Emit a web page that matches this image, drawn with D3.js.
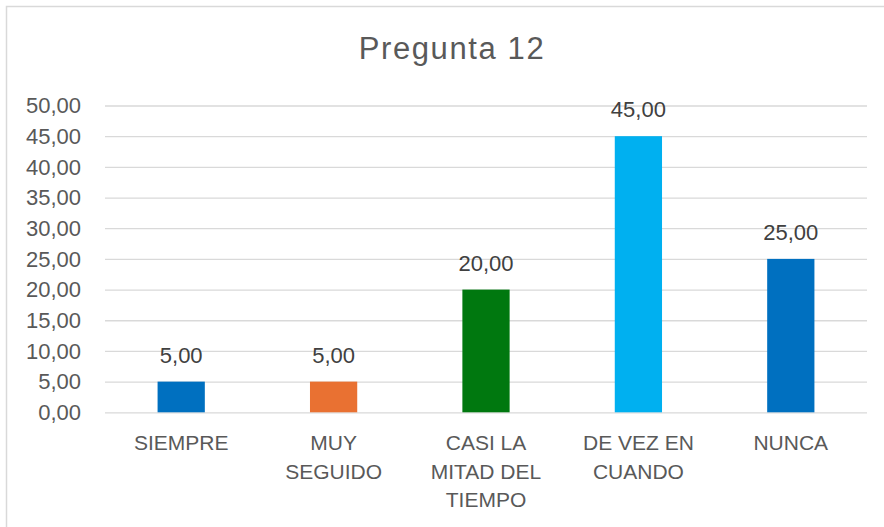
<!DOCTYPE html>
<html>
<head>
<meta charset="utf-8">
<script src="https://cdn.jsdelivr.net/npm/d3@7"></script>
<style>
  html, body { margin: 0; padding: 0; background: #fff; }
  svg { display: block; font-family: "Liberation Sans", Arial, sans-serif; }
</style>
</head>
<body>
<svg id="chart" width="884" height="527"></svg>
<script>
const title = "Pregunta 12";
const categories = ["SIEMPRE", "MUY SEGUIDO", "CASI LA MITAD DEL TIEMPO", "DE VEZ EN CUANDO", "NUNCA"];
const categoryLines = [["SIEMPRE"], ["MUY", "SEGUIDO"], ["CASI LA", "MITAD DEL", "TIEMPO"], ["DE VEZ EN", "CUANDO"], ["NUNCA"]];
const values = [5, 5, 20, 45, 25];
const colors = ["#0070C0", "#E97132", "#00780F", "#00B0F0", "#0070C0"];
const yTicks = [0, 5, 10, 15, 20, 25, 30, 35, 40, 45, 50];

const fmt = v => d3.format(".2f")(v).replace(".", ",");

const svg = d3.select("#chart");

// chart frame
svg.append("rect")
  .attr("x", 6.5).attr("y", 6.5)
  .attr("width", 891).attr("height", 540)
  .attr("fill", "#fff").attr("stroke", "#d9d9d9").attr("stroke-width", 1.5);

const plot = { left: 105, right: 867, top: 105.5, bottom: 412.3 };

const x = d3.scaleBand().domain(categories).range([plot.left, plot.right]).padding(0);
const y = d3.scaleLinear().domain([0, 50]).range([plot.bottom, plot.top]);

// title
svg.append("text")
  .attr("x", 452).attr("y", 59)
  .attr("text-anchor", "middle")
  .attr("font-size", 31)
  .attr("letter-spacing", 1.6)
  .attr("fill", "#595959")
  .text(title);

// gridlines + y tick labels
const yAxis = d3.axisLeft(y).tickValues(yTicks)
  .tickSize(-(plot.right - plot.left))
  .tickFormat(fmt)
  .tickPadding(24);
const gy = svg.append("g").attr("transform", `translate(${plot.left},0)`).call(yAxis);
gy.select(".domain").remove();
gy.selectAll(".tick line").attr("stroke", "#d9d9d9").attr("stroke-width", 1.3);
gy.selectAll(".tick text")
  .attr("font-size", 22)
  .attr("fill", "#595959")
  .attr("font-family", "'Liberation Sans', Arial, sans-serif")
  .attr("dy", "0.33em");

// bars
const barW = x.bandwidth() * 0.31;
svg.append("g").selectAll("rect")
  .data(values)
  .join("rect")
  .attr("x", (d, i) => x(categories[i]) + x.bandwidth() / 2 - barW / 2)
  .attr("y", d => y(d))
  .attr("width", barW)
  .attr("height", d => y(0) - y(d))
  .attr("fill", (d, i) => colors[i]);

// data labels
svg.append("g").selectAll("text")
  .data(values)
  .join("text")
  .attr("x", (d, i) => x(categories[i]) + x.bandwidth() / 2)
  .attr("y", d => y(d) - 19)
  .attr("text-anchor", "middle")
  .attr("font-size", 22)
  .attr("fill", "#404040")
  .text(d => fmt(d));

// category labels
const gx = svg.append("g");
categories.forEach((c, i) => {
  const t = gx.append("text")
    .attr("x", x(c) + x.bandwidth() / 2)
    .attr("y", 450)
    .attr("text-anchor", "middle")
    .attr("font-size", 21)
    .attr("fill", "#595959");
  categoryLines[i].forEach((line, j) => {
    t.append("tspan")
      .attr("x", x(c) + x.bandwidth() / 2)
      .attr("y", 450 + j * 28.7)
      .text(line);
  });
});
</script>
</body>
</html>
